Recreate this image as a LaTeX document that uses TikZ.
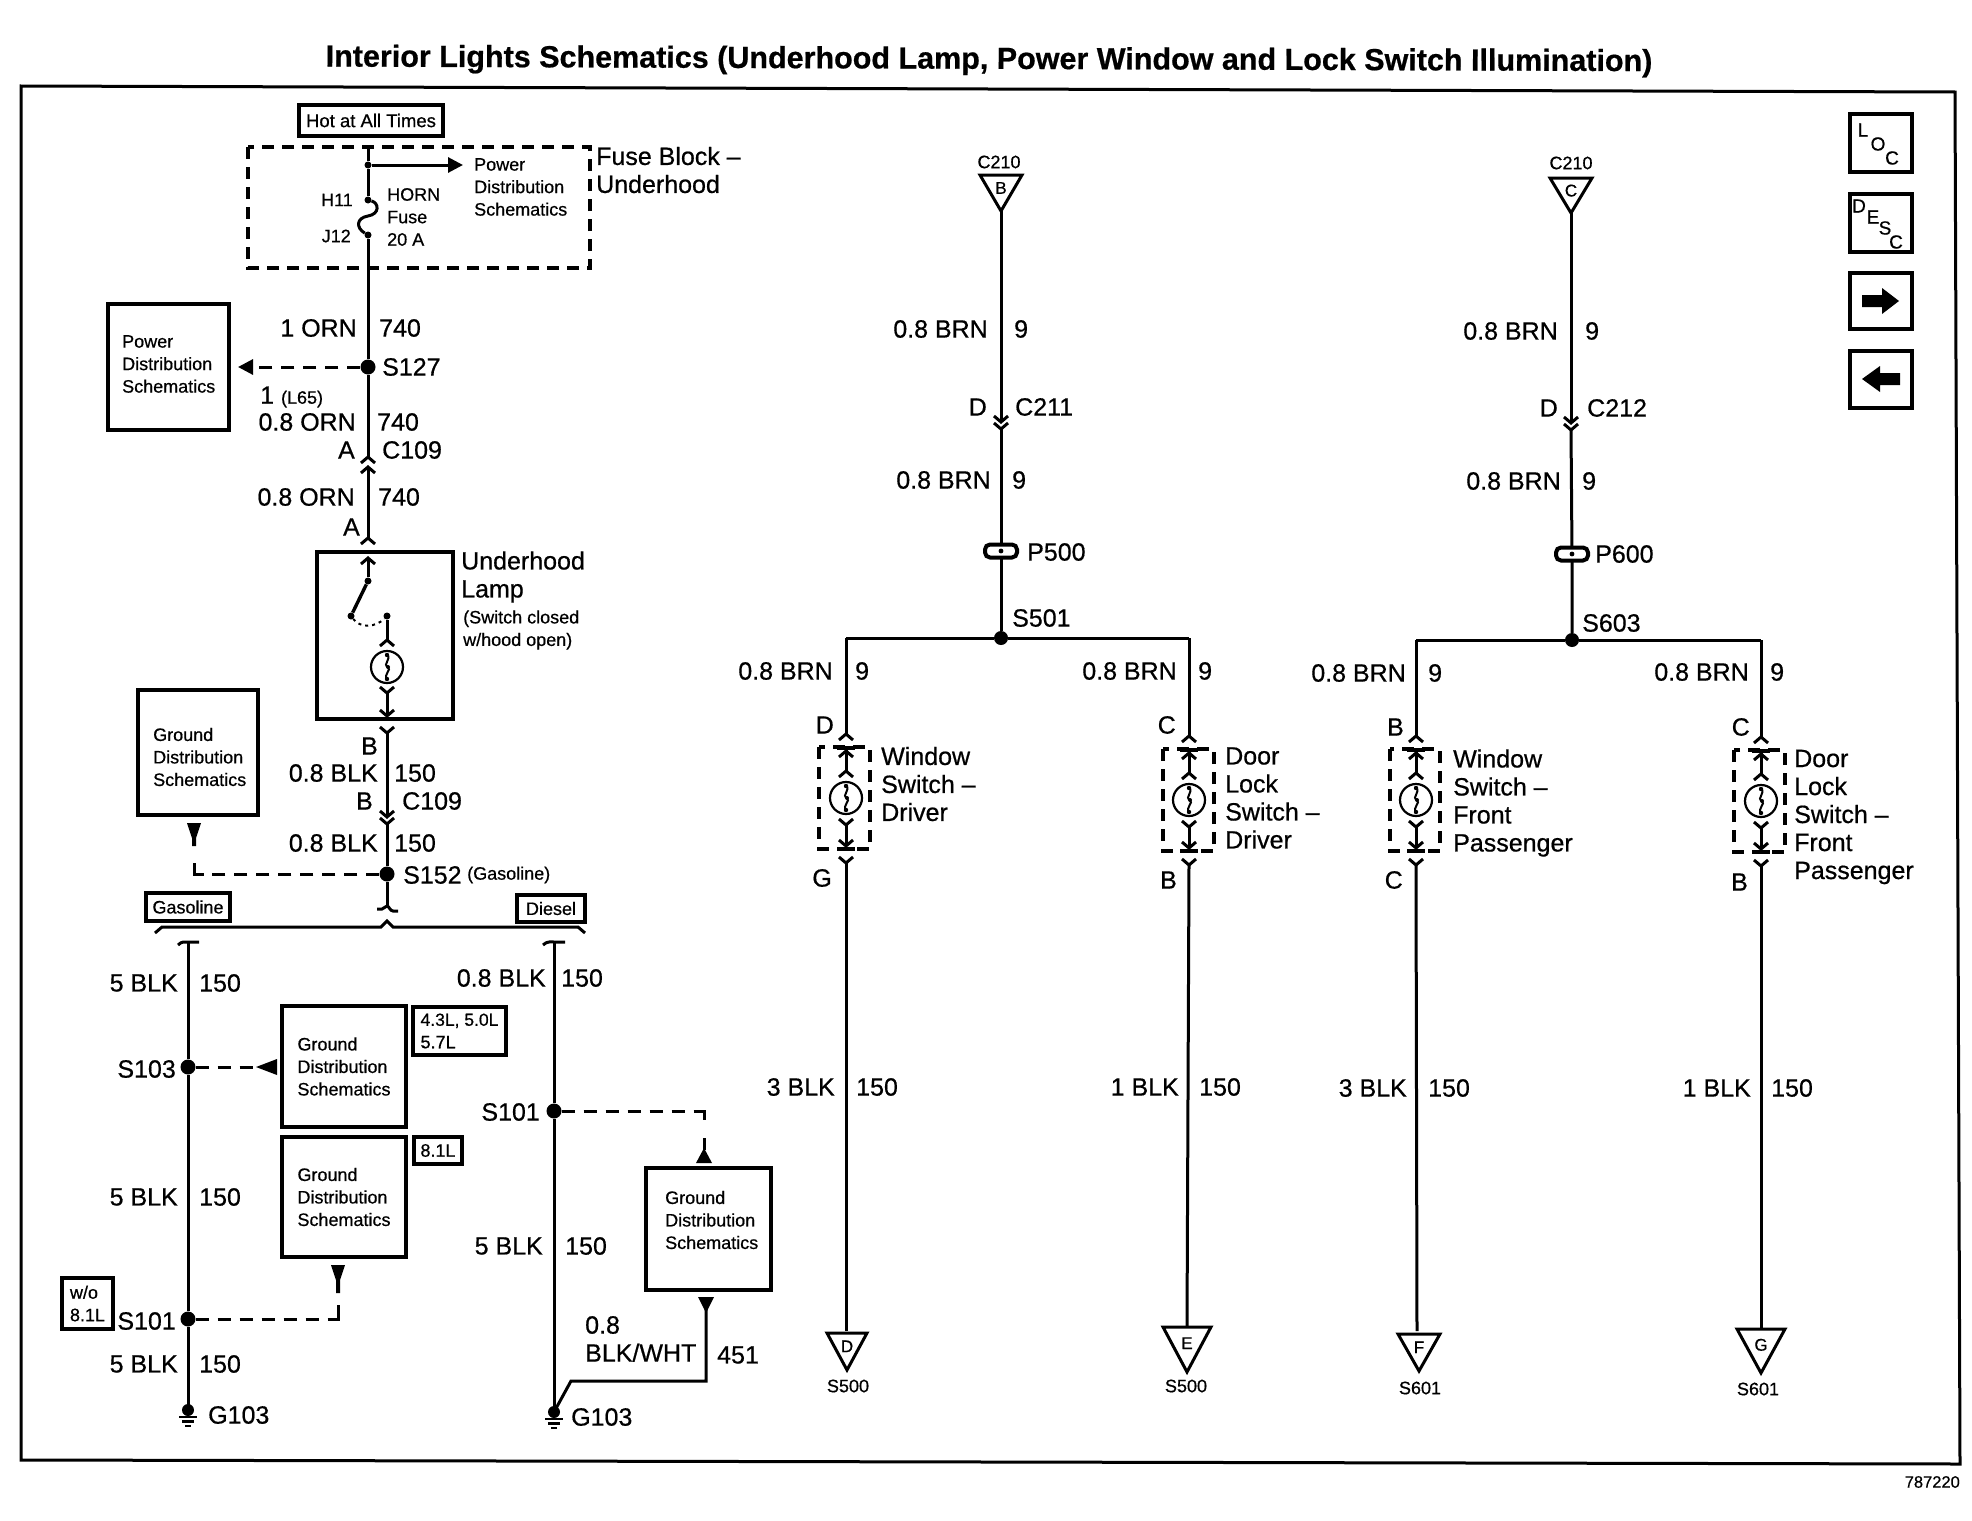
\documentclass[tikz,border=0pt]{standalone}
\usepackage{fontspec}
\setmainfont{Liberation Sans}[RawFeature={embolden=0.6}]
\usetikzlibrary{arrows.meta}
\newcounter{lb}
\tikzset{
  wire/.style={line width=3pt},
  dashwire/.style={line width=3pt,dash pattern=on 13pt off 9pt},
  dashbox/.style={line width=3.8pt,dash pattern=on 12pt off 8pt},
  big/.style={font=\fontsize{25}{28}\selectfont,inner sep=0pt,align=left},
  small/.style={font=\fontsize{18}{22.5}\selectfont,inner sep=0pt,align=left},
  boxst/.style={draw,line width=4pt,inner sep=0pt,font=\fontsize{18}{22.5}\selectfont,align=left},
  labbox/.style={draw,line width=3.4pt,inner sep=0pt,font=\fontsize{18}{22.5}\selectfont,align=left},
  sdot/.style={circle,fill=black,inner sep=0pt,minimum size=15pt},
  tdot/.style={circle,fill=black,inner sep=0pt,minimum size=7pt},
  pics/chevup/.style={code={\draw[wire] (-7,6)--(0,0)--(7,6);}},
  pics/chevdn/.style={code={\draw[wire] (-7,-6)--(0,0)--(7,-6);}},
  pics/lamp/.style={code={
     \draw[line width=2.2pt] (0,0) circle (16);
     \draw[line width=2pt] (0,-13) .. controls (5,-7) and (-5,-3) .. (1,0) .. controls (5,3) and (-4,7) .. (0,13);
     \fill (0,-12) circle (2.2); \fill (0,12) circle (2.2); \fill (1,0) circle (2);
  }},
  pics/ground/.style={code={
     \fill (0,0) circle (6);
     \draw[line width=2.4pt] (-9,7)--(9,7);
     \draw[line width=2.2pt] (-6,11.5)--(6,11.5);
     \draw[line width=2pt] (-3,16)--(3,16);
  }}
}
% text whose left edge / right edge sits at x, centred on y
\newcommand{\tL}[4][big]{\stepcounter{lb}\node[#1,anchor=west] (lb\arabic{lb}) at (#2,#3) {#4};}
\newcommand{\tR}[4][big]{\stepcounter{lb}\node[#1,anchor=east] (lb\arabic{lb}) at (#2,#3) {#4};}
% box given by its corners
\newcommand{\bx}[7][boxst]{\node[#1,minimum width={(#5-#3)*1pt},minimum height={(#6-#4)*1pt}] (#2) at ({(#3+#5)/2},{(#4+#6)/2}) {#7};}
% destination triangle
\newcommand{\trid}[6]{%
  \coordinate (#1T) at (#2,#3);
  \coordinate (#1A) at (#2,#3+#5);
  \draw[line width=3pt,line join=miter] (#2-#4,#3) -- (#2+#4,#3) -- (#1A) -- cycle;
  \node[small,font=\fontsize{17}{20}\selectfont] (#1L) at (#2,#3+#5*0.36) {#6};}
% dashed inline component with lamp
\newcommand{\swbox}[5]{%
  \draw[dashbox] (#2,#4) rectangle (#3,#4+102);
  \coordinate (#1hat) at (#5,#4-13);
  \coordinate (#1y) at (#5,#4+116);
  \draw[wire] (#5,#4+2) -- (#5,#4+24);
  \draw[line width=3.4pt] (#5-9,#4+1) -- (#5+9,#4+1);
  \path (#5,#4+4) pic {chevup};
  \path (#5,#4+24) pic {chevup};
  \path (#5,#4+51) pic {lamp};
  \path (#5,#4+78) pic {chevdn};
  \draw[wire] (#5,#4+78) -- (#5,#4+99);
  \path (#5,#4+99) pic {chevdn};
  \draw[line width=3.4pt] (#5-9,#4+102) -- (#5+9,#4+102);
  \path (#1hat) pic {chevup};
  \path (#1y) pic {chevdn};}
% inline two-bar connector
\newcommand{\bars}[2]{\draw[line width=4pt,rounded corners=5pt,fill=white] (#1-16,#2-6.5) rectangle (#1+16,#2+6.5); \fill (#1,#2) circle (2.4);}
\begin{document}
\begin{tikzpicture}[x=1pt,y=-1pt]
\useasboundingbox (0,0) rectangle (1972,1520);
\fill[white] (0,0) rectangle (1972,1520);
% title and frame
\node[inner sep=0pt,rotate=-0.2,font=\fontsize{30.5}{34}\selectfont\bfseries] (title) at (989,61) {Interior Lights Schematics (Underhood Lamp, Power Window and Lock Switch Illumination)};
\draw[line width=3pt] (21,86) -- (1955,92) -- (1960,1464) -- (21,1460) -- cycle;
\tR[small,font=\fontsize{16.5}{20}\selectfont]{1960}{1482}{787220}

% ---------- fuse block
\bx[labbox]{hot}{299}{105}{443}{136}{\fontsize{18.5}{20}\selectfont Hot at All Times}
\draw[dashbox] (248,147) rectangle (590,268);
\tL{596}{170}{Fuse Block –\\Underhood}
\coordinate (fusetop) at (368,147);
\node[tdot] (bus) at (368,165) {};
\node[tdot] (h11) at (368,200) {};
\node[tdot] (j12) at (368,235) {};
\coordinate (pdarrow) at (463,165);
\draw[wire] (fusetop) -- (bus) -- (h11);
\draw[wire] (h11) .. controls (379,203) and (380,214) .. (368,216) .. controls (356,218) and (356,228) .. (j12);
\draw[wire,-{Triangle[length=15pt,width=15pt]}] (bus) -- (pdarrow);
\tL[small]{474}{187}{Power\\Distribution\\Schematics}
\tR[small]{353}{200}{H11}
\tR[small]{351}{236}{J12}
\tL[small]{387}{217}{HORN\\Fuse\\20 A}

% ---------- S127 and power distribution
\bx{pdbox}{108}{304}{229}{430}{}
\tL[small]{122}{364}{Power\\Distribution\\Schematics}
\node[sdot] (s127) at (368,367) {};
\coordinate (s127w) at (238,367);
\coordinate (c109top) at (368,457);
\draw[wire] (j12) -- (s127) -- (c109top);
\draw[dashwire,-{Triangle[length=15pt,width=15pt]}] (s127) -- (s127w);
\tR{357}{328}{1 ORN}
\tL{379}{328}{740}
\tL{382}{367}{S127}
\tL{260}{397}{1 \fontsize{18}{20}\selectfont(L65)}
\tR{356}{422}{0.8 ORN}
\tL{377}{422}{740}
\tR{355}{450}{A}
\tL{382}{450}{C109}
\path (c109top) pic {chevup};
\coordinate (c109a) at (368,467);
\coordinate (lamptop) at (368,538);
\path (c109a) pic {chevup};
\draw[wire] (c109a) -- (lamptop);
\path (lamptop) pic {chevup};
\tR{355}{497}{0.8 ORN}
\tL{378}{497}{740}
\tR{360}{527}{A}

% ---------- underhood lamp
\bx{ulbox}{317}{552}{453}{719}{}
\tL{461}{577}{Underhood\\Lamp}
\tL[small]{463}{630}{(Switch closed\\w/hood open)}
\coordinate (ultip) at (368,558);
\node[tdot] (swa) at (368,581) {};
\node[tdot] (swb) at (351,616) {};
\node[tdot] (swc) at (387,616) {};
\path (ultip) pic {chevup};
\draw[wire] (ultip) -- (swa);
\draw[line width=3.4pt] (swa) -- (swb);
\draw[line width=2pt,dash pattern=on 3pt off 4pt] (swb) .. controls (360,628) and (375,628) .. (swc);
\coordinate (lhat) at (387,640);
\coordinate (ly) at (387,693);
\coordinate (ltip) at (387,716);
\draw[wire] (swc) -- (lhat);
\path (lhat) pic {chevup};
\path (387,667) pic {lamp};
\path (ly) pic {chevdn};
\draw[wire] (ly) -- (ltip);
\path (ltip) pic {chevdn};

% ---------- C109 B and S152
\coordinate (by) at (387,733);
\coordinate (btip) at (387,817);
\coordinate (by2) at (387,824);
\node[sdot] (s152) at (387,874) {};
\path (by) pic {chevdn};
\draw[wire] (by) -- (btip);
\path (btip) pic {chevdn};
\path (by2) pic {chevdn};
\draw[wire] (by2) -- (s152);
\tR{378}{746}{B}
\tR{378}{773}{0.8 BLK}
\tL{394}{773}{150}
\tR{373}{801}{B}
\tL{402}{801}{C109}
\tR{378}{843}{0.8 BLK}
\tL{394}{843}{150}
\tL{403}{875}{S152}
\tL[small]{467}{875}{(Gasoline)}
\bx{gd1}{138}{690}{258}{815}{}
\tL[small]{153}{757}{Ground\\Distribution\\Schematics}
\coordinate (gd1k) at (203,874);
\coordinate (gd1c) at (194,874);
\coordinate (gd1s) at (194,863);
\draw[dashwire] (s152) -- (gd1k);
\draw[wire] (gd1k) -- (gd1c) -- (gd1s);
\fill (187,823) -- (201,823) -- (196,838) -- (196,846) -- (192,846) -- (192,838) -- cycle;
\bx[labbox]{gasbox}{146}{893}{230}{921}{Gasoline}
\bx[labbox]{dieselbox}{517}{895}{585}{922}{Diesel}
\coordinate (hatc) at (387,906);
\draw[wire] (s152) -- (hatc);
\draw[wire] (377,909) -- (382,909) .. controls (384,909) and (385,906) .. (hatc) .. controls (389,906) and (390,911) .. (393,911) -- (398,911);
\draw[wire] (155,933) -- (162,927) -- (381,927) -- (387,921) -- (393,927) -- (578,927) -- (585,933);

% ---------- gasoline branch
\coordinate (gastee) at (188,942);
\coordinate (dstee) at (554,942);
\draw[wire] (178,945) .. controls (182,941) and (185,942) .. (gastee) -- (199,942);
\draw[wire] (543,945) .. controls (547,941) and (551,942) .. (dstee) -- (565,942);
\node[sdot] (s103) at (188,1067) {};
\node[sdot] (s101a) at (188,1319) {};
\coordinate (g103a) at (188,1410);
\draw[wire] (gastee) -- (s103) -- (s101a) -- (g103a);
\path (g103a) pic {ground};
\tR{178}{983}{5 BLK}
\tL{199}{983}{150}
\tR{176}{1069}{S103}
\tR{178}{1197}{5 BLK}
\tL{199}{1197}{150}
\tR{176}{1321}{S101}
\tR{178}{1364}{5 BLK}
\tL{199}{1364}{150}
\tL{208}{1415}{G103}
\bx{gd2}{282}{1006}{406}{1127}{Ground\\Distribution\\Schematics}
\bx[labbox]{eng1}{413}{1007}{506}{1055}{\fontsize{17.5}{22}\selectfont 4.3L, 5.0L\\5.7L}
\coordinate (gd2a) at (262,1067);
\draw[dashwire] (s103) -- (gd2a);
\fill (256,1067) -- (277,1059) -- (277,1075) -- cycle;
\bx{gd3}{282}{1137}{406}{1257}{Ground\\Distribution\\Schematics}
\bx[labbox]{eng2}{414}{1137}{462}{1164}{8.1L}
\bx[labbox]{noeng}{62}{1278}{113}{1329}{w/o\\8.1L}
\coordinate (gd3k) at (329,1319);
\coordinate (gd3c) at (338,1319);
\coordinate (gd3s) at (338,1305);
\draw[dashwire] (s101a) -- (gd3k);
\draw[wire] (gd3k) -- (gd3c) -- (gd3s);
\fill (331,1265) -- (345,1265) -- (340,1280) -- (340,1293) -- (336,1293) -- (336,1280) -- cycle;

% ---------- diesel branch
\node[sdot] (s101b) at (554,1111) {};
\coordinate (g103b) at (554,1412);
\draw[wire] (dstee) -- (s101b) -- (g103b);
\path (g103b) pic {ground};
\tR{546}{978}{0.8 BLK}
\tL{561}{978}{150}
\tR{540}{1112}{S101}
\tR{543}{1246}{5 BLK}
\tL{565}{1246}{150}
\tL{571}{1417}{G103}
\bx{gd4}{646}{1168}{771}{1290}{}
\tL[small]{665}{1220}{Ground\\Distribution\\Schematics}
\coordinate (gd4k) at (695,1111);
\coordinate (gd4c) at (704,1111);
\coordinate (gd4s) at (704,1120);
\draw[dashwire] (s101b) -- (gd4k);
\draw[wire] (gd4k) -- (gd4c) -- (gd4s);
\fill (704,1148) -- (712,1163) -- (696,1163) -- cycle;
\draw[wire] (704,1138) -- (704,1150);
\coordinate (gd4b) at (706,1308);
\coordinate (gd4d) at (706,1381);
\coordinate (gd4e) at (571,1381);
\draw[wire] (gd4b) -- (gd4d) -- (gd4e) -- (g103b);
\fill (698,1297) -- (714,1297) -- (706,1313) -- cycle;
\tL{585}{1339}{0.8\\BLK/WHT}
\tL{717}{1355}{451}

% ---------- group 1 (driver)
\node[small] (c210a) at (999,162) {C210};
\trid{b1}{1001}{175}{21}{36}{B}
\coordinate (d1tip) at (1001,422);
\coordinate (d1y) at (1001,429);
\coordinate (p500) at (1001,551);
\node[sdot,minimum size=14pt] (s501) at (1001,638) {};
\draw[wire] (b1A) -- (d1tip);
\path (d1tip) pic {chevdn};
\path (d1y) pic {chevdn};
\draw[wire] (d1y) -- (p500) -- (s501);
\bars{1001}{551}
\tR{988}{329}{0.8 BRN}
\tL{1014}{329}{9}
\tR{987}{407}{D}
\tL{1015}{407}{C211}
\tR{991}{480}{0.8 BRN}
\tL{1012}{480}{9}
\tL{1027}{552}{P500}
\tL{1012}{618}{S501}
\coordinate (w1t) at (846,638);
\coordinate (e1t) at (1189,638);
\draw[wire] (w1t) -- (s501) -- (e1t);
\swbox{wd}{819}{870}{747}{846}
\swbox{dd}{1163}{1214}{749}{1189}
\draw[wire] (w1t) -- (wdhat);
\draw[wire] (e1t) -- (ddhat);
\tR{833}{671}{0.8 BRN}
\tL{855}{671}{9}
\tR{1177}{671}{0.8 BRN}
\tL{1198}{671}{9}
\tR{834}{725}{D}
\tR{1176}{725}{C}
\tL{881}{784}{Window\\Switch –\\Driver}
\tL{1225}{798}{Door\\Lock\\Switch –\\Driver}
\tR{832}{878}{G}
\tR{1177}{880}{B}
\trid{t1}{847}{1333}{20}{37}{D}
\trid{t2}{1187}{1327}{24}{45}{E}
\draw[wire] (wdy) -- (846,1331);
\draw[wire] (ddy) -- (t2T);
\tR{835}{1087}{3 BLK}
\tL{856}{1087}{150}
\tR{1179}{1087}{1 BLK}
\tL{1199}{1087}{150}
\node[small] (s500a) at (848,1386) {S500};
\node[small] (s500b) at (1186,1386) {S500};

% ---------- group 2 (front passenger)
\node[small] (c210b) at (1571,163) {C210};
\trid{b2}{1571}{178}{21}{35}{C}
\coordinate (d2tip) at (1571,423);
\coordinate (d2y) at (1571,430);
\coordinate (p600) at (1572,554);
\node[sdot,minimum size=14pt] (s603) at (1572,640) {};
\draw[wire] (b2A) -- (d2tip);
\path (d2tip) pic {chevdn};
\path (d2y) pic {chevdn};
\draw[wire] (d2y) -- (p600) -- (s603);
\bars{1572}{554}
\tR{1558}{331}{0.8 BRN}
\tL{1585}{331}{9}
\tR{1558}{408}{D}
\tL{1587}{408}{C212}
\tR{1561}{481}{0.8 BRN}
\tL{1582}{481}{9}
\tL{1595}{554}{P600}
\tL{1582}{623}{S603}
\coordinate (w2t) at (1416,640);
\coordinate (e2t) at (1761,640);
\draw[wire] (w2t) -- (s603) -- (e2t);
\swbox{wp}{1390}{1440}{749}{1416}
\swbox{dp}{1734}{1785}{750}{1761}
\draw[wire] (w2t) -- (wphat);
\draw[wire] (e2t) -- (dphat);
\tR{1406}{673}{0.8 BRN}
\tL{1428}{673}{9}
\tR{1749}{672}{0.8 BRN}
\tL{1770}{672}{9}
\tR{1404}{727}{B}
\tR{1750}{727}{C}
\tL{1453}{803}{Window\\Switch –\\Front\\Passenger}
\tL{1794}{817}{Door\\Lock\\Switch –\\Front\\Passenger}
\tR{1403}{880}{C}
\tR{1748}{882}{B}
\trid{t3}{1419}{1334}{21}{37}{F}
\trid{t4}{1761}{1329}{24}{44}{G}
\draw[wire] (wpy) -- (1417,1331);
\draw[wire] (dpy) -- (t4T);
\tR{1407}{1088}{3 BLK}
\tL{1428}{1088}{150}
\tR{1751}{1088}{1 BLK}
\tL{1771}{1088}{150}
\node[small] (s601a) at (1420,1388) {S601};
\node[small] (s601b) at (1758,1389) {S601};

% ---------- navigation buttons
\bx{loc}{1850}{114}{1912}{172}{}
\foreach \c/\a/\b in {L/1863/130,O/1878/144,C/1892/158}{\node[small,font=\fontsize{19}{20}\selectfont] at (\a,\b) {\c};}
\bx{desc}{1850}{194}{1912}{252}{}
\foreach \c/\a/\b in {D/1859/206,E/1873/217,S/1885/228,C/1896/242}{\node[small,font=\fontsize{19}{20}\selectfont] at (\a,\b) {\c};}
\bx{nxt}{1850}{273}{1912}{329}{}
\fill (1862,295) -- (1882,295) -- (1882,288) -- (1899,301) -- (1882,314) -- (1882,307) -- (1862,307) -- cycle;
\bx{prv}{1850}{351}{1912}{408}{}
\fill (1900,373) -- (1880,373) -- (1880,366) -- (1862,379) -- (1880,392) -- (1880,385) -- (1900,385) -- cycle;
\end{tikzpicture}
\end{document}
